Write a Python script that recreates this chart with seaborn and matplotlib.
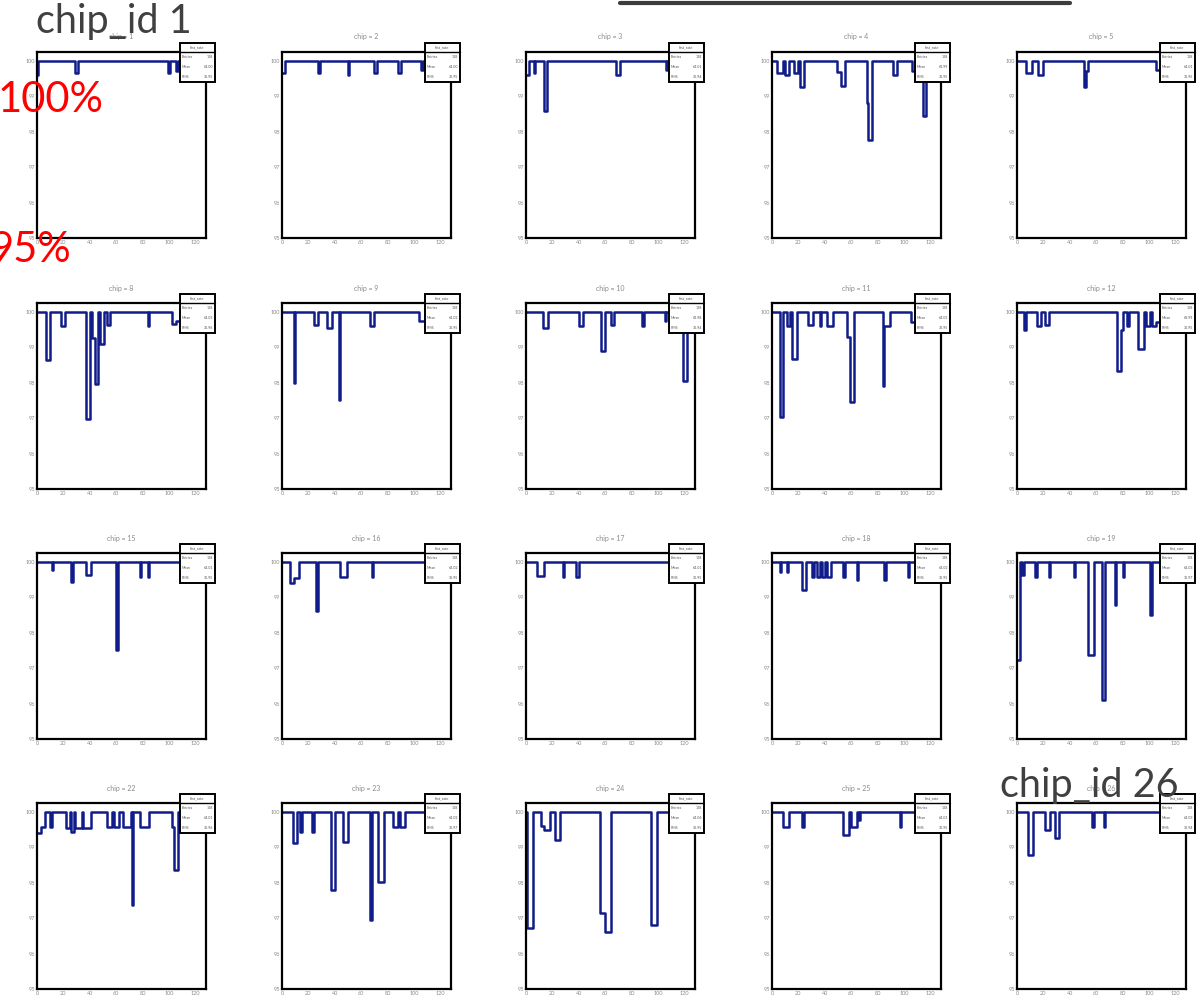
import numpy as np
import pandas as pd
import matplotlib
matplotlib.use("Agg")
import matplotlib.pyplot as plt
from matplotlib.lines import Line2D
from matplotlib.patches import Rectangle
from matplotlib.ticker import MultipleLocator
import seaborn as sns

# chips shown on the page, row by row
chip_ids = [1, 2, 3, 4, 5, 8, 9, 10, 11, 12, 15, 16, 17, 18, 19, 22, 23, 24, 25, 26]
n_channels = 128
full_rate = 100.0

# dips: (first channel, last channel, rate in %)
dips_1 = [(0, 0, 99.6), (29, 30, 99.65), (99, 100, 99.65), (105, 106, 99.7)]
dips_2 = [(0, 1, 99.65), (27, 28, 99.65), (50, 50, 99.6), (70, 71, 99.65), (88, 89, 99.65), (105, 106, 99.75)]
dips_3 = [(0, 1, 99.6), (6, 6, 99.67), (14, 15, 98.58), (68, 70, 99.6), (106, 106, 99.75)]
dips_4 = [(4, 7, 99.65), (10, 12, 99.6), (17, 19, 99.65), (21, 23, 99.27), (49, 51, 99.68),
          (52, 54, 99.3), (72, 72, 98.8), (73, 75, 97.77), (92, 94, 99.6), (106, 108, 99.7),
          (114, 116, 98.44)]
dips_5 = [(7, 10, 99.65), (16, 19, 99.6), (51, 51, 99.27), (52, 53, 99.7), (105, 108, 99.75)]
dips_8 = [(7, 9, 98.63), (18, 20, 99.6), (37, 39, 96.98), (42, 43, 99.27), (44, 45, 97.95),
          (48, 50, 99.08), (53, 54, 99.64), (84, 84, 99.6), (102, 104, 99.65), (105, 107, 99.75)]
dips_9 = [(9, 9, 97.99), (24, 26, 99.64), (34, 37, 99.55), (43, 43, 97.5), (67, 69, 99.6),
          (104, 107, 99.75)]
dips_10 = [(13, 16, 99.55), (40, 42, 99.6), (57, 59, 98.89), (64, 66, 99.64), (88, 88, 99.6),
           (105, 105, 99.75), (119, 121, 98.04)]
dips_11 = [(6, 7, 97.02), (11, 13, 99.6), (15, 18, 98.68), (27, 30, 99.64), (36, 36, 99.6),
           (42, 45, 99.6), (57, 58, 99.3), (59, 61, 97.45), (84, 84, 97.9), (85, 88, 99.6),
           (105, 107, 99.7)]
dips_12 = [(5, 6, 99.5), (15, 17, 99.6), (21, 23, 99.64), (76, 78, 98.34), (79, 79, 99.5),
           (83, 84, 99.6), (92, 95, 98.95), (98, 100, 99.6), (102, 104, 99.6), (105, 107, 99.7)]
dips_15 = [(11, 11, 99.77), (26, 26, 99.44), (37, 40, 99.63), (60, 60, 97.52), (78, 78, 99.58),
           (84, 84, 99.58)]
dips_16 = [(6, 8, 99.4), (9, 12, 99.55), (26, 26, 98.62), (44, 48, 99.58), (68, 68, 99.58)]
dips_17 = [(8, 13, 99.6), (28, 28, 99.58), (38, 39, 99.58)]
dips_18 = [(6, 6, 99.72), (11, 11, 99.7), (23, 25, 99.2), (30, 31, 99.58), (34, 35, 99.58),
           (38, 39, 99.58), (42, 44, 99.58), (54, 54, 99.58), (64, 64, 99.5), (85, 85, 99.5),
           (103, 103, 99.58)]
dips_19 = [(0, 1, 97.24), (4, 4, 99.63), (14, 14, 99.58), (24, 24, 99.58), (43, 43, 99.58),
           (54, 57, 97.38), (64, 66, 96.1), (74, 74, 98.79), (80, 80, 99.58), (101, 101, 98.5),
           (108, 108, 99.72), (110, 110, 99.72)]
dips_22 = [(0, 2, 99.4), (3, 5, 99.58), (10, 10, 99.58), (22, 24, 99.55), (26, 27, 99.42),
           (29, 33, 99.55), (35, 40, 99.55), (53, 56, 99.58), (58, 61, 99.58), (65, 70, 99.58),
           (72, 72, 97.38), (78, 84, 99.58), (102, 103, 99.58), (104, 106, 98.37)]
dips_23 = [(8, 10, 99.13), (14, 14, 99.44), (23, 23, 99.44), (37, 39, 97.8), (46, 49, 99.15),
           (67, 67, 96.96), (73, 76, 98.03), (84, 87, 99.58), (89, 92, 99.58)]
dips_24 = [(1, 4, 96.73), (11, 13, 99.6), (14, 17, 99.5), (22, 25, 99.2), (56, 59, 97.15),
           (60, 63, 96.6), (95, 98, 96.82)]
dips_25 = [(8, 12, 99.58), (23, 23, 99.58), (54, 57, 99.35), (60, 63, 99.58), (66, 66, 99.77),
           (97, 97, 99.58)]
dips_26 = [(8, 11, 98.79), (21, 24, 99.5), (29, 31, 99.27), (57, 57, 99.58), (66, 66, 99.58)]

chip_dips = {1: dips_1, 2: dips_2, 3: dips_3, 4: dips_4, 5: dips_5,
             8: dips_8, 9: dips_9, 10: dips_10, 11: dips_11, 12: dips_12,
             15: dips_15, 16: dips_16, 17: dips_17, 18: dips_18, 19: dips_19,
             22: dips_22, 23: dips_23, 24: dips_24, 25: dips_25, 26: dips_26}

sns.set_style("white")
plt.rcParams["font.family"] = ["Lato", "DejaVu Sans"]

W, H = 1204, 1001
fig = plt.figure(figsize=(W / 100, H / 100), dpi=100)

navy = "#101c8a"
col_left = [37, 282, 526, 772, 1017]
row_top = [52, 303, 553, 803]
pw, ph = 169, 186

for k, chip in enumerate(chip_ids):
    r, c = divmod(k, 5)
    x0 = col_left[c] / W
    y0 = 1 - (row_top[r] + ph) / H
    ax = fig.add_axes([x0, y0, pw / W, ph / H])

    rate = np.full(n_channels, full_rate)
    for a, b, v in chip_dips[chip]:
        rate[a:b + 1] = v
    df = pd.DataFrame({"channel": np.arange(n_channels) + 0.5, "rate": rate})

    sns.histplot(data=df, x="channel", weights="rate", bins=n_channels,
                 binrange=(0, n_channels), element="step", fill=False,
                 color=navy, linewidth=1.8, ax=ax)

    ax.set_xlim(0, n_channels)
    ax.set_ylim(95, 100.25)
    ax.set_xlabel("")
    ax.set_ylabel("")
    ax.xaxis.set_major_locator(MultipleLocator(20))
    ax.xaxis.set_minor_locator(MultipleLocator(4))
    ax.yaxis.set_major_locator(MultipleLocator(1))
    ax.yaxis.set_minor_locator(MultipleLocator(0.2))
    ax.tick_params(which="both", direction="in", colors="black", labelcolor="#8a8a8a",
                   labelsize=4, width=1.0, top=False, right=False, pad=1.5)
    ax.tick_params(which="major", length=5)
    ax.tick_params(which="minor", length=2.5)
    for s in ax.spines.values():
        s.set_linewidth(1.6)
        s.set_color("black")
    ax.set_title(f"chip = {chip}", fontsize=5, color="#8a8a8a", pad=9)

    # ROOT-style stats box
    ents = len(rate)
    mean = np.average(df["channel"], weights=rate)
    rms = np.sqrt(np.average((df["channel"] - mean) ** 2, weights=rate))
    bx, by, bw, bh = 0.846, 0.838, 0.205, 0.21
    ax.add_patch(Rectangle((bx, by), bw, bh, transform=ax.transAxes, facecolor="white",
                           edgecolor="black", linewidth=1.4, clip_on=False, zorder=10))
    ax.add_artist(Line2D([bx, bx + bw], [1.0, 1.0], transform=ax.transAxes, color="black",
                         linewidth=1.0, clip_on=False, zorder=11))
    ax.text(bx + bw / 2, 1.024, "hist_rate", transform=ax.transAxes, fontsize=2.8,
            ha="center", va="center", color="#555555", zorder=12)
    rows = [("Entries", f"{ents}"), ("Mean", f"{mean:.2f}"), ("RMS", f"{rms:.2f}")]
    for i, (lab, val) in enumerate(rows):
        yy = 0.975 - i * 0.055
        ax.text(bx + 0.01, yy, lab, transform=ax.transAxes, fontsize=2.6,
                ha="left", va="center", color="#555555", zorder=12)
        ax.text(bx + bw - 0.01, yy, val, transform=ax.transAxes, fontsize=2.6,
                ha="right", va="center", color="#555555", zorder=12)

# slide annotations
fig.text(36 / W, 1 - 33 / H, "chip_id 1", fontsize=28.5, color="#404040", ha="left", va="baseline")
fig.text(1000 / W, 1 - 797 / H, "chip_id 26", fontsize=28.5, color="#404040", ha="left", va="baseline")
fig.text(-2 / W, 1 - 112 / H, "100%", fontsize=30, color="red", ha="left", va="baseline")
fig.text(-10 / W, 1 - 262 / H, "95%", fontsize=30, color="red", ha="left", va="baseline")

# underline of the cut-off slide heading
fig.add_artist(Line2D([620 / W, 1070 / W], [1 - 3 / H, 1 - 3 / H], color="#3c3c3c", linewidth=3))

fig.savefig("out.png", dpi=100)
